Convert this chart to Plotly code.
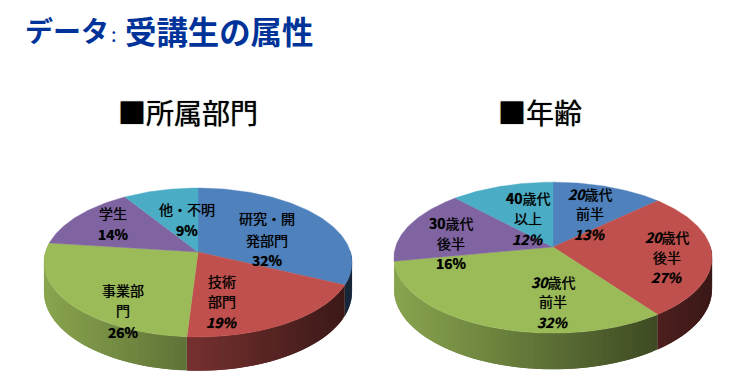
import math
import plotly.graph_objects as go

dept_labels = [["研究・開", "発部門"], ["技術", "部門"], ["事業部", "門"], ["学生"], ["他・不明"]]
dept_values = [32, 19, 26, 14, 9]
age_labels = [["<b><i>20</i></b>歳代", "前半"], ["<b><i>20</i></b>歳代", "後半"], ["<b><i>30</i></b>歳代", "前半"], ["<b>30</b>歳代", "後半"], ["<b>40</b>歳代", "以上"]]
age_values = [13, 27, 32, 16, 12]
italic_pct_dept = [False, True, False, False, False]
italic_pct_age = [True, True, True, False, True]
colors = [(79, 129, 189), (192, 80, 77), (155, 187, 89), (128, 100, 162), (75, 172, 198)]

FONT = "Noto Sans CJK JP"
K = 0.141


def project(theta, geo):
    u, v = math.sin(theta), -math.cos(theta)
    s = 1 / (1 - K * v)
    return geo["cx"] + geo["rx"] * u * s, geo["cy"] + geo["ry"] * v * s, s


def rgb(c, m=1.0):
    return "rgb(%d,%d,%d)" % tuple(round(x * m) for x in c)


def add_pie(fig, values, geo):
    total = sum(values)
    left = geo["cx"] - geo["rx"]
    width = 2 * geo["rx"]
    start = 0.0
    spans = []
    for val, col in zip(values, colors):
        end = start + val / total * 360
        spans.append((start, end, col))
        start = end
    # side wall: overlapping strips, painted slice by slice so no seams show
    step = 2.0
    for a0, a1, col in spans:
        a = max(a0, geo["wall_from"])
        stop = min(a1, geo["wall_to"])
        while a < stop:
            b = min(a + step, stop)
            b2 = min(b + step, stop)
            t0, t1 = math.radians(a), math.radians(b2)
            x0, y0, s0 = project(t0, geo)
            x1, y1, s1 = project(t1, geo)
            xm, _, _ = project(math.radians((a + b) / 2), geo)
            t = (xm - left) / width
            c = rgb(col, 0.88 - 0.58 * t)
            fig.add_trace(go.Scatter(
                x=[x0, x1, x1, x0, x0],
                y=[y0, y1, y1 + geo["d"] * s1, y0 + geo["d"] * s0, y0],
                mode="lines", fill="toself", fillcolor=c,
                line=dict(color=c, width=0), hoverinfo="skip", showlegend=False))
            a = b
    # top faces
    for a0, a1, col in spans:
        n = max(2, int(a1 - a0))
        xs, ys = [geo["cx"]], [geo["cy"]]
        for i in range(n + 1):
            x, y, _ = project(math.radians(a0 + (a1 - a0) * i / n), geo)
            xs.append(x)
            ys.append(y)
        xs.append(geo["cx"])
        ys.append(geo["cy"])
        fig.add_trace(go.Scatter(
            x=xs, y=ys, mode="lines", fill="toself", fillcolor=rgb(col),
            line=dict(color=rgb(col), width=0.4), hoverinfo="skip", showlegend=False))


SHADOW = "0 0 0.7px rgba(0,0,0,0.75)"


def add_labels(anns, labels, values, italics, places):
    for lab, val, it, (cx, ys) in zip(labels, values, italics, places):
        pct = f"<b>{val}%</b>"
        if it:
            pct = f"<i>{pct}</i>"
        for line, y in zip(lab + [pct], ys):
            anns.append(dict(x=cx, y=y, xref="x", yref="y", text=line, showarrow=False,
                             xanchor="center", yanchor="middle",
                             font=dict(family=FONT, size=14, color="#000000", shadow=SHADOW)))


fig = go.Figure()
geo_left = dict(cx=198, cy=252, rx=152.5, ry=73, d=29, wall_from=88, wall_to=277.2)
geo_right = dict(cx=553, cy=247, rx=157.5, ry=74, d=31, wall_from=88, wall_to=259.2)
add_pie(fig, dept_values, geo_left)
add_pie(fig, age_values, geo_right)

anns = []
add_labels(anns, dept_labels, dept_values, italic_pct_dept, [
    (267, [218, 240, 260]), (222, [281, 301, 322]), (123, [290, 310, 332]),
    (113, [213, 234]), (187, [209, 230])])
add_labels(anns, age_labels, age_values, italic_pct_age, [
    (590, [194, 213, 234]), (667, [237, 257, 277]), (553, [282, 301, 322]),
    (451, [223, 243, 263]), (528, [198, 218, 239])])

BLUE = "#003399"
anns.append(dict(x=24, y=30, xref="x", yref="y", text="<b>データ</b>", showarrow=False, xanchor="left",
                 yanchor="middle", borderpad=0, font=dict(family=FONT, size=28, color=BLUE)))
anns.append(dict(x=110, y=33, xref="x", yref="y", text=":", showarrow=False, xanchor="left",
                 yanchor="middle", borderpad=0, font=dict(family=FONT, size=20, color=BLUE)))
anns.append(dict(x=124, y=30, xref="x", yref="y", text="<b>受講生の属性</b>", showarrow=False, xanchor="left",
                 yanchor="middle", borderpad=0, font=dict(family=FONT, size=31.4, color=BLUE)))
TITLE_SHADOW = "0 0 1px rgba(0,0,0,0.8)"
anns.append(dict(x=188, y=112, xref="x", yref="y", text="■所属部門", showarrow=False, xanchor="center",
                 yanchor="middle", font=dict(family=FONT, size=28, color="#000000", shadow=TITLE_SHADOW)))
anns.append(dict(x=540, y=112, xref="x", yref="y", text="■年齢", showarrow=False, xanchor="center",
                 yanchor="middle", font=dict(family=FONT, size=28, color="#000000", shadow=TITLE_SHADOW)))

fig.update_layout(
    width=731, height=388, autosize=False, margin=dict(l=0, r=0, t=0, b=0),
    paper_bgcolor="white", plot_bgcolor="white", showlegend=False, annotations=anns,
    xaxis=dict(range=[0, 731], visible=False, fixedrange=True),
    yaxis=dict(range=[388, 0], visible=False, fixedrange=True),
)
fig.write_html("out.html", post_script="document.body.style.margin='0';document.body.style.overflow='hidden';",
               config=dict(displayModeBar=False))
